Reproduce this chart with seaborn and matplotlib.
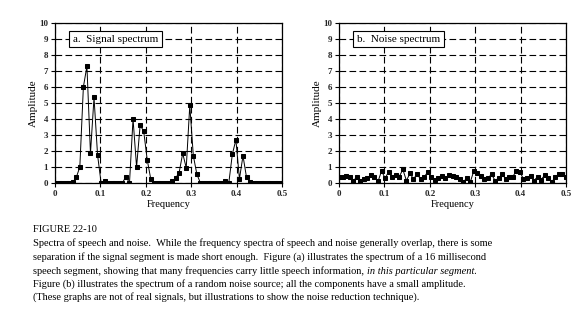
import numpy as np
import pandas as pd
import matplotlib
matplotlib.use("Agg")
import matplotlib.pyplot as plt
import seaborn as sns

# ---- data (65 bins from 0 to 0.5, spacing 1/128) ----
freq = [k / 128 for k in range(65)]
signal_amp = [0, 0, 0, 0, 0, 0.05, 0.35, 1.0, 6.0, 7.3, 1.85, 5.35, 1.75, 0.0, 0.1,
              0, 0, 0, 0, 0, 0.4, 0.0, 4.0, 1.0, 3.6, 3.25, 1.45, 0.25, 0, 0,
              0, 0, 0, 0.1, 0.3, 0.65, 1.85, 0.95, 4.85, 1.7, 0.55, 0, 0, 0, 0,
              0, 0, 0, 0.15, 0.0, 1.8, 2.7, 0.25, 1.7, 0.35, 0.05, 0, 0, 0, 0,
              0, 0, 0, 0, 0]
noise_amp = [0.35, 0.4, 0.45, 0.35, 0.15, 0.35, 0.15, 0.25, 0.3, 0.5, 0.4, 0.1, 0.75,
             0.3, 0.7, 0.35, 0.5, 0.4, 0.85, 0.15, 0.6, 0.25, 0.55, 0.25, 0.35, 0.7,
             0.35, 0.2, 0.3, 0.45, 0.3, 0.5, 0.45, 0.35, 0.25, 0.05, 0.3, 0.05, 0.75,
             0.6, 0.45, 0.25, 0.3, 0.55, 0.15, 0.3, 0.55, 0.25, 0.35, 0.4, 0.75, 0.7,
             0.25, 0.3, 0.45, 0.15, 0.4, 0.2, 0.5, 0.3, 0.05, 0.4, 0.55, 0.55, 0.35]
panel_titles = ["a.  Signal spectrum", "b.  Noise spectrum"]
x_ticks = [0, 0.1, 0.2, 0.3, 0.4, 0.5]
x_tick_labels = ["0", "0.1", "0.2", "0.3", "0.4", "0.5"]
y_ticks = list(range(11))

caption_title = "FIGURE 22-10"
caption_lines = [
    "Spectra of speech and noise.  While the frequency spectra of speech and noise generally overlap, there is some",
    "separation if the signal segment is made short enough.  Figure (a) illustrates the spectrum of a 16 millisecond",
    "speech segment, showing that many frequencies carry little speech information, ",
    "Figure (b) illustrates the spectrum of a random noise source; all the components have a small amplitude.",
    "(These graphs are not of real signals, but illustrations to show the noise reduction technique).",
]
caption_italic = "in this particular segment."

sns.set_theme(style="white")
plt.rcParams["font.family"] = ["Liberation Serif", "DejaVu Serif"]

fig = plt.figure(figsize=(5.88, 3.35), dpi=100)
W, H = 588, 335

def px_axes(l, t, r, b):
    return fig.add_axes([l / W, 1 - b / H, (r - l) / W, (b - t) / H])

ax_a = px_axes(55, 23, 282, 183)
ax_b = px_axes(339, 23, 566, 183)

for ax, amp, title in [(ax_a, signal_amp, panel_titles[0]), (ax_b, noise_amp, panel_titles[1])]:
    df = pd.DataFrame({"Frequency": freq, "Amplitude": amp})
    sns.lineplot(data=df, x="Frequency", y="Amplitude", ax=ax, color="black",
                 linewidth=0.7, marker="s", markersize=3.5, markeredgecolor="black",
                 markerfacecolor="black", zorder=3)
    ax.set_xlim(0, 0.5)
    ax.set_ylim(0, 10)
    ax.set_xticks(x_ticks)
    ax.set_xticklabels(x_tick_labels)
    ax.set_yticks(y_ticks)
    ax.tick_params(axis="both", direction="out", length=3, width=0.8, color="black",
                   labelsize=6.5, pad=2, left=True, bottom=True)
    for lab in ax.get_xticklabels() + ax.get_yticklabels():
        lab.set_fontweight("bold")
    ax.grid(True, color="black", linestyle=(0, (6, 3)), linewidth=0.8)
    ax.set_axisbelow(True)
    for s in ax.spines.values():
        s.set_visible(True)
        s.set_color("black")
        s.set_linewidth(0.9)
    ax.set_xlabel("Frequency", fontsize=7.5, labelpad=1.5, color="black")
    ax.set_ylabel("Amplitude", fontsize=8, labelpad=0.5, color="black")
    ax.text(0.08, 0.9, title, transform=ax.transAxes, fontsize=8, va="center", ha="left",
            color="black", zorder=5,
            bbox=dict(boxstyle="square,pad=0.35", facecolor="white", edgecolor="black", linewidth=0.8))

# caption
fig.text(33 / W, 1 - 229 / H, caption_title, fontsize=7.5, va="center", ha="left", color="black")
ys = [243, 257, 271, 284, 297]
texts = []
for line, y in zip(caption_lines, ys):
    t = fig.text(33 / W, 1 - y / H, line, fontsize=7.5, va="center", ha="left", color="black")
    texts.append(t)

fig.canvas.draw()
r = fig.canvas.get_renderer()
bb = texts[2].get_window_extent(renderer=r)
fig.text(bb.x1 / W, 1 - ys[2] / H, caption_italic, fontsize=7.5, va="center", ha="left",
         color="black", style="italic")

fig.savefig("out.png", dpi=100)
